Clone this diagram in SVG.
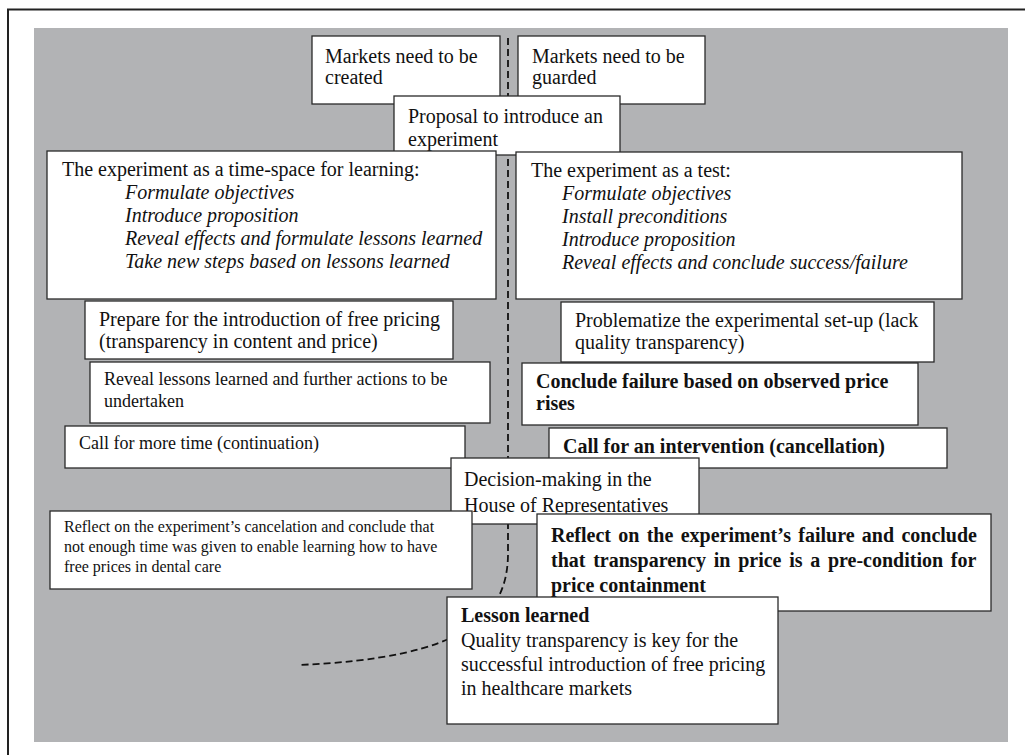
<svg xmlns="http://www.w3.org/2000/svg" width="1025" height="755" viewBox="0 0 1025 755">
<style>
.box{fill:#fff;stroke:#2a2a2a;stroke-width:1.3}
text{font-family:"Liberation Serif","Times New Roman",serif;fill:#111;font-size:20px}
.s18{font-size:18px}
.s16{font-size:16px}
.b{font-weight:bold}
.i{font-style:italic}
.dash{fill:none;stroke:#111;stroke-width:1.8;stroke-dasharray:7 4}
</style>
<rect x="0" y="0" width="1025" height="755" fill="#fff"/>
<path d="M8 755 V9.5 H1025" fill="none" stroke="#222" stroke-width="2"/>
<rect x="34" y="28" width="974" height="714" fill="#b2b3b5"/>
<g id="connectors">
<path class="dash" d="M508 38 V555 C 507 615, 468 658, 298 665"/>
</g>
<g id="n-created">
<rect class="box" x="312" y="36" width="188" height="68"/>
<text x="325" y="63">Markets need to be</text>
<text x="325" y="84">created</text>
</g>
<g id="n-guarded">
<rect class="box" x="518" y="36" width="187" height="68"/>
<text x="532" y="63">Markets need to be</text>
<text x="532" y="84">guarded</text>
</g>
<g id="n-proposal">
<rect class="box" x="394" y="96" width="226" height="59"/>
<text x="408" y="123">Proposal to introduce an</text>
<text x="408" y="146">experiment</text>
</g>
<g id="n-learning">
<rect class="box" x="47" y="151" width="449" height="148"/>
<text x="62" y="176">The experiment as a time-space for learning:</text>
<text class="i" x="125" y="199">Formulate objectives</text>
<text class="i" x="125" y="222">Introduce proposition</text>
<text class="i" x="125" y="245">Reveal effects and formulate lessons learned</text>
<text class="i" x="125" y="268">Take new steps based on lessons learned</text>
</g>
<g id="n-test">
<rect class="box" x="516" y="152" width="446" height="147"/>
<text x="531" y="177">The experiment as a test:</text>
<text class="i" x="562" y="200">Formulate objectives</text>
<text class="i" x="562" y="223">Install preconditions</text>
<text class="i" x="562" y="246">Introduce proposition</text>
<text class="i" x="562" y="269">Reveal effects and conclude success/failure</text>
</g>
<g id="n-prepare">
<rect class="box" x="85" y="301" width="368" height="58"/>
<text x="99" y="326">Prepare for the introduction of free pricing</text>
<text x="99" y="348">(transparency in content and price)</text>
</g>
<g id="n-reveal">
<rect class="box" x="90" y="362" width="400" height="61"/>
<text class="s18" x="104" y="385">Reveal lessons learned and further actions to be</text>
<text class="s18" x="104" y="407">undertaken</text>
</g>
<g id="n-moretime">
<rect class="box" x="65" y="426" width="400" height="42"/>
<text class="s18" x="79" y="449">Call for more time (continuation)</text>
</g>
<g id="n-problematize">
<rect class="box" x="561" y="302" width="373" height="60"/>
<text x="575" y="327">Problematize the experimental set-up (lack</text>
<text x="575" y="349">quality transparency)</text>
</g>
<g id="n-conclude">
<rect class="box" x="522" y="363" width="396" height="62"/>
<text class="b" x="536" y="388">Conclude failure based on observed price</text>
<text class="b" x="536" y="410">rises</text>
</g>
<g id="n-intervention">
<rect class="box" x="549" y="428" width="398" height="40"/>
<text class="b" x="563" y="453">Call for an intervention (cancellation)</text>
</g>
<g id="n-decision">
<rect class="box" x="451" y="458" width="248" height="66"/>
<text x="464" y="486">Decision-making in the</text>
<text x="464" y="512">House of Representatives</text>
</g>
<g id="n-cancelation">
<rect class="box" x="50" y="511" width="422" height="78"/>
<text class="s16" x="64" y="532">Reflect on the experiment’s cancelation and conclude that</text>
<text class="s16" x="64" y="552">not enough time was given to enable learning how to have</text>
<text class="s16" x="64" y="572">free prices in dental care</text>
</g>
<g id="n-failure">
<rect class="box" x="537" y="514" width="454" height="97"/>
<text class="b" x="551" y="542" word-spacing="2.3">Reflect on the experiment’s failure and conclude</text>
<text class="b" x="551" y="567" word-spacing="2.7">that transparency in price is a pre-condition for</text>
<text class="b" x="551" y="592">price containment</text>
</g>
<g id="n-lesson">
<rect class="box" x="447" y="597" width="331" height="127"/>
<text class="b" x="461" y="622">Lesson learned</text>
<text x="461" y="647">Quality transparency is key for the</text>
<text x="461" y="671">successful introduction of free pricing</text>
<text x="461" y="695">in healthcare markets</text>
</g>
</svg>
